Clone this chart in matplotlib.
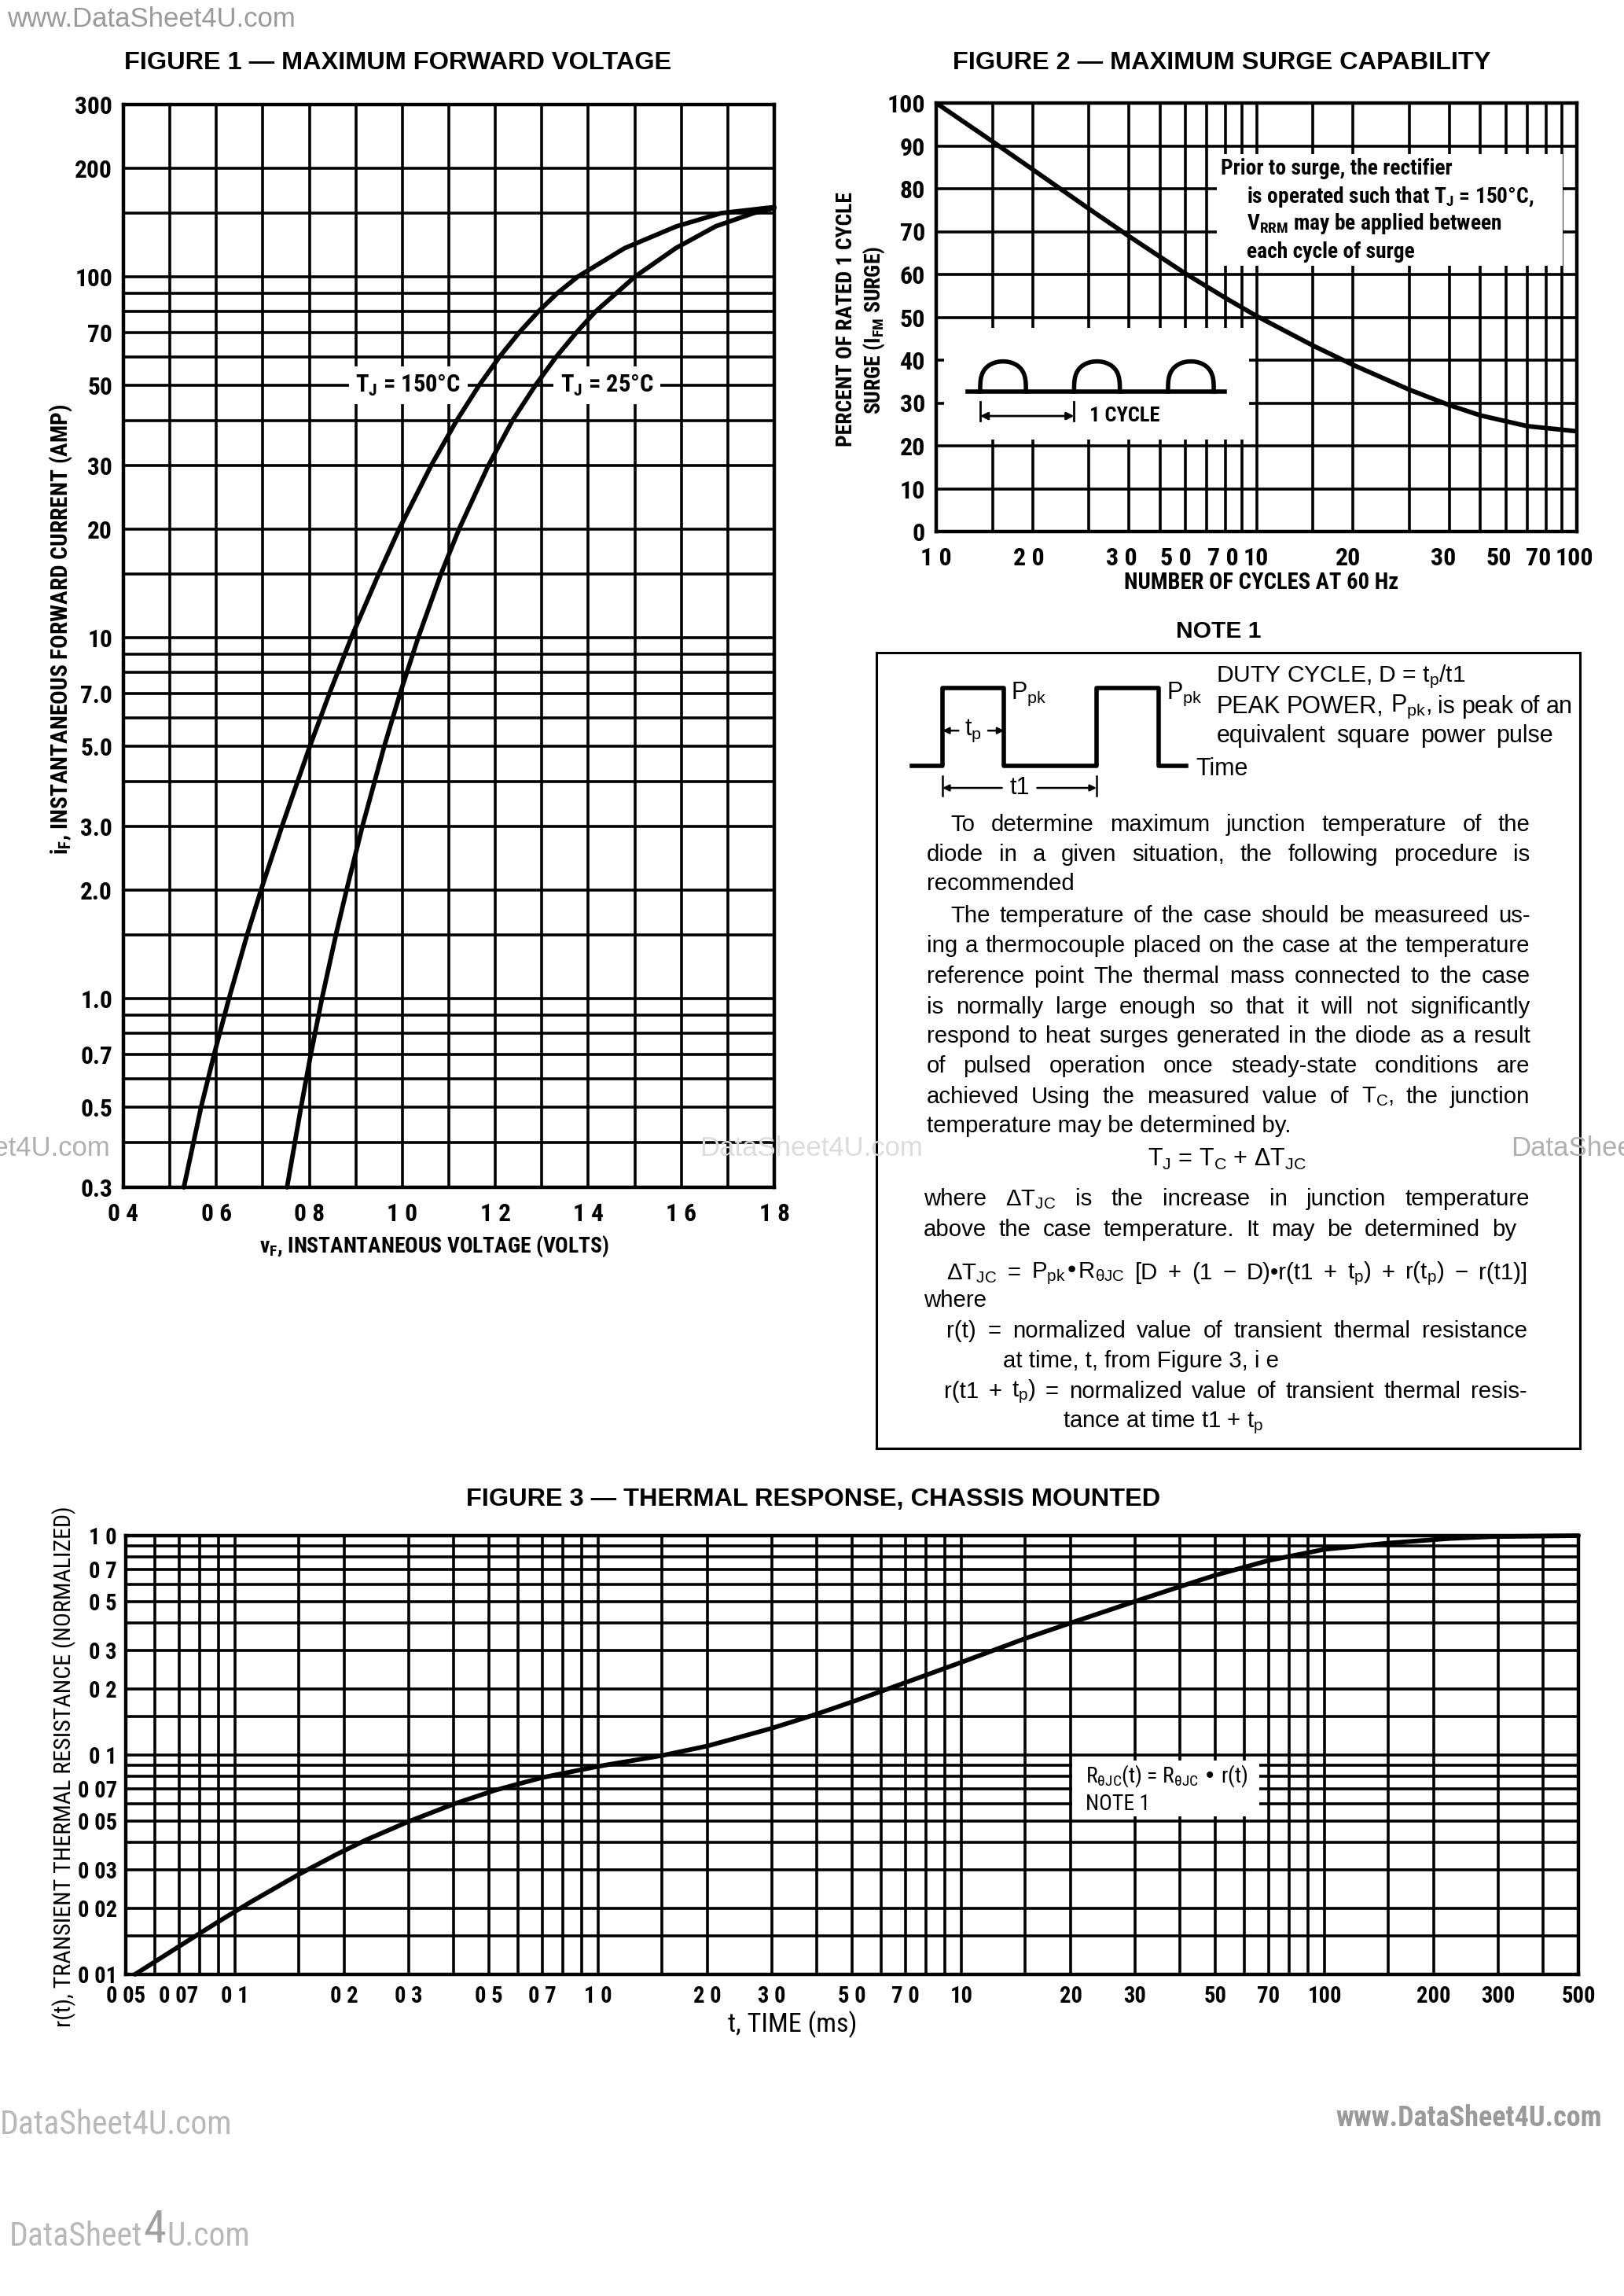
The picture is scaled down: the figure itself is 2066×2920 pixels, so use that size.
import os
import numpy as np
import matplotlib.pyplot as plt
import matplotlib.font_manager as fm
from matplotlib.patches import Rectangle
from matplotlib.ticker import NullFormatter

# page size in pixels (the reference is a scanned datasheet page)
W, H = 2066, 2920
DPI = 200

SANS = ['Liberation Sans', 'DejaVu Sans']
plt.rcParams['font.family'] = SANS
plt.rcParams['mathtext.default'] = 'regular'

# ---------------- Figure 1 : maximum forward voltage ----------------
vf_150 = [0.530, 0.567, 0.595, 0.627, 0.666, 0.696, 0.741, 0.801, 0.843, 0.890,
          0.949, 0.993, 1.062, 1.117, 1.165, 1.209, 1.251, 1.292, 1.333, 1.377,
          1.478, 1.590, 1.685, 1.800]
if_150 = [0.3, 0.5, 0.7, 1.0, 1.5, 2.0, 3.0, 5.0, 7.0, 10,
          15, 20, 30, 40, 50, 60, 70, 80, 90, 100,
          120, 138, 150, 156]
vf_25 = [0.752, 0.782, 0.803, 0.827, 0.857, 0.880, 0.914, 0.961, 0.995, 1.034,
         1.083, 1.122, 1.185, 1.237, 1.286, 1.331, 1.374, 1.415, 1.500, 1.588,
         1.674, 1.755, 1.800]
if_25 = [0.3, 0.5, 0.7, 1.0, 1.5, 2.0, 3.0, 5.0, 7.0, 10,
         15, 20, 30, 40, 50, 60, 70, 80, 100, 120,
         138, 150, 155]
f1_yticks = [0.3, 0.5, 0.7, 1.0, 2.0, 3.0, 5.0, 7.0, 10, 20, 30, 50, 70, 100, 200, 300]
f1_ylabels = ['0.3', '0.5', '0.7', '1.0', '2.0', '3.0', '5.0', '7.0',
              '10', '20', '30', '50', '70', '100', '200', '300']
f1_xticks = [0.4, 0.6, 0.8, 1.0, 1.2, 1.4, 1.6, 1.8]
f1_xlabels = ['0 4', '0 6', '0 8', '1 0', '1 2', '1 4', '1 6', '1 8']
f1_xgrid = [0.4, 0.5, 0.6, 0.7, 0.8, 0.9, 1.0, 1.1, 1.2, 1.3, 1.4, 1.5, 1.6, 1.7, 1.8]
f1_ygrid = [0.3, 0.4, 0.5, 0.6, 0.7, 0.8, 0.9, 1, 1.5, 2, 3, 4, 5, 6, 7, 8, 9,
            10, 15, 20, 30, 40, 50, 60, 70, 80, 90, 100, 150, 200, 300]

# ---------------- Figure 2 : maximum surge capability ----------------
surge_cycles = [1, 1.5, 2, 3, 4, 5, 6, 8, 10, 15, 20, 30, 40, 50, 70, 100]
surge_pct = [100, 91.0, 84.5, 75.3, 68.9, 64.1, 60.2, 54.5, 50.3, 43.4, 38.9,
             33.1, 29.5, 27.1, 24.6, 23.4]
# the printed labels sit a little off their grid lines
f2_xtick_pos = [1, 1.95, 3.8, 5.6, 7.85, 9.96, 19.3, 38.2, 57, 76, 98]
f2_xlabels = ['1 0', '2 0', '3 0', '5 0', '7 0', '10', '20', '30', '50', '70', '100']
f2_yticks = [0, 10, 20, 30, 40, 50, 60, 70, 80, 90, 100]
f2_xgrid = [1, 1.5, 2, 3, 4, 5, 6, 7, 8, 9, 10, 15, 20, 30, 40, 50, 60, 70, 80, 90, 100]

# ---------------- Figure 3 : thermal response ----------------
t_ms = [0.053, 0.07, 0.09, 0.11, 0.15, 0.19, 0.23, 0.3, 0.4, 0.52, 0.7, 1.0, 1.5,
        2.0, 3.0, 4.0, 5.0, 6.0, 7.0, 10, 15, 20, 30, 40, 50, 70, 100, 150,
        220, 290, 500]
r_t = [0.0100, 0.0134, 0.0174, 0.0213, 0.0286, 0.0352, 0.0411, 0.0497, 0.0598,
       0.0691, 0.0789, 0.0888, 0.0995, 0.110, 0.1323, 0.1538, 0.1747, 0.1949,
       0.2137, 0.2647, 0.340, 0.400, 0.501, 0.586, 0.660, 0.770, 0.866, 0.925,
       0.970, 0.990, 1.0]
f3_xticks = [0.05, 0.07, 0.1, 0.2, 0.3, 0.5, 0.7, 1.0, 2.0, 3.0, 5.0, 7.0,
             10, 20, 30, 50, 70, 100, 200, 300, 500]
f3_xlabels = ['0 05', '0 07', '0 1', '0 2', '0 3', '0 5', '0 7', '1 0', '2 0',
              '3 0', '5 0', '7 0', '10', '20', '30', '50', '70', '100', '200',
              '300', '500']
f3_yticks = [0.01, 0.02, 0.03, 0.05, 0.07, 0.1, 0.2, 0.3, 0.5, 0.7, 1.0]
f3_ylabels = ['0 01', '0 02', '0 03', '0 05', '0 07', '0 1', '0 2', '0 3',
              '0 5', '0 7', '1 0']
mantissas = [1, 1.5, 2, 3, 4, 5, 6, 7, 8, 9]

GRID_LW = 1.3


# ---------- a condensed face for the narrow datasheet lettering ----------
def pick_condensed(want_weight):
    prefs = ['liberation sans narrow', 'arial narrow', 'nimbus sans narrow',
             'roboto condensed', 'dejavu sans condensed', 'noto sans condensed',
             'open sans condensed']
    best = None
    for f in fm.fontManager.ttflist:
        base = os.path.basename(f.fname).lower()
        key = (f.name + ' ' + base).lower().replace('-', ' ').replace('_', ' ')
        key2 = key.replace(' ', '')
        if f.style != 'normal':
            continue
        if 'narrow' not in key and 'condensed' not in key:
            continue
        if any(w in key2 for w in ('extra', 'ultra', 'semicond')):
            continue
        w = f.weight if isinstance(f.weight, int) else fm.weight_dict.get(f.weight, 400)
        rank = len(prefs)
        for i, p in enumerate(prefs):
            if all(part in key2 for part in p.split()):
                rank = i
                break
        score = (rank, abs(w - want_weight))
        if best is None or score < best[0]:
            best = (score, f.fname)
    if best is None or best[0][1] > 150:
        return None
    return best[1]


COND_B = pick_condensed(700)
COND_R = pick_condensed(400)


def nprop(size, bold=True):
    path = COND_B if bold else COND_R
    if path:
        return fm.FontProperties(fname=path, size=size)
    return fm.FontProperties(family=SANS, weight='bold' if bold else 'normal',
                             size=size * 0.82)


def add_ax(l, t, r, b):
    return fig.add_axes([l / W, 1 - b / H, (r - l) / W, (b - t) / H])


def ftext(x, y, s, **kw):
    return fig.text(x / W, 1 - y / H, s, **kw)


def graph_paper(ax, xgrid, ygrid):
    ax.xaxis.remove_overlapping_locs = False
    ax.yaxis.remove_overlapping_locs = False
    ax.set_xticks(xgrid, minor=True)
    ax.set_yticks(ygrid, minor=True)
    ax.xaxis.set_minor_formatter(NullFormatter())
    ax.yaxis.set_minor_formatter(NullFormatter())
    ax.grid(which='minor', color='black', lw=GRID_LW)
    ax.tick_params(which='both', length=0)
    for s in ax.spines.values():
        s.set_linewidth(GRID_LW + 0.3)


def tick_font(ax, size):
    for lab in ax.get_xticklabels() + ax.get_yticklabels():
        lab.set_fontproperties(nprop(size))


fig = plt.figure(figsize=(W / DPI, H / DPI), dpi=DPI)
renderer = fig.canvas.get_renderer()

CURVE = dict(color='black', lw=2.1, solid_joinstyle='round', solid_capstyle='round')

# ===================== FIGURE 1 =====================
ax1 = add_ax(157, 133, 985, 1510)
ax1.set_yscale('log')
ax1.set_xlim(0.4, 1.8)
ax1.set_ylim(0.3, 300)
graph_paper(ax1, f1_xgrid, f1_ygrid)
ax1.set_xticks(f1_xticks, f1_xlabels)
ax1.set_yticks(f1_yticks, f1_ylabels)
ax1.tick_params(axis='x', pad=7)
ax1.tick_params(axis='y', pad=5)
tick_font(ax1, 11.3)
ax1.plot(vf_150, if_150, zorder=4, clip_on=False, **CURVE)
ax1.plot(vf_25, if_25, zorder=4, clip_on=False, **CURVE)
lab_kw = dict(ha='center', va='center', fontproperties=nprop(11), zorder=3,
              bbox=dict(fc='white', ec='none', pad=3))
ax1.text(1.013, 50, r'T$_J$ = 150°C', **lab_kw)
ax1.text(1.44, 50, r'T$_J$ = 25°C', **lab_kw)

ftext(506, 80, 'FIGURE 1 — MAXIMUM FORWARD VOLTAGE', ha='center', va='center',
      fontweight='bold', fontsize=11.7)
ftext(552, 1585, r'v$_F$, INSTANTANEOUS VOLTAGE (VOLTS)', ha='center', va='center',
      fontproperties=nprop(9.9))
ftext(78, 800, r'i$_F$, INSTANTANEOUS FORWARD CURRENT (AMP)', ha='center', va='center',
      rotation=90, fontproperties=nprop(10.6))

# ===================== FIGURE 2 =====================
ax2 = add_ax(1191, 131, 2006, 676)
ax2.set_xscale('log')
ax2.set_xlim(1, 100)
ax2.set_ylim(0, 100)
graph_paper(ax2, f2_xgrid, f2_yticks)
ax2.set_xticks(f2_xtick_pos, f2_xlabels)
ax2.set_yticks(f2_yticks, [str(v) for v in f2_yticks])
ax2.tick_params(axis='x', pad=7)
ax2.tick_params(axis='y', pad=5)
tick_font(ax2, 11.5)
ax2.plot(surge_cycles, surge_pct, zorder=4, **CURVE)

# white area holding the note in the upper right
ax2.add_patch(Rectangle((0.4375, 0.62), 0.54, 0.26, transform=ax2.transAxes,
                        fc='white', ec='none', zorder=2))
note_kw = dict(transform=ax2.transAxes, ha='left', va='center',
               fontproperties=nprop(9.9), zorder=3)
ax2.text(0.444, 0.847, 'Prior to surge, the rectifier', **note_kw)
ax2.text(0.485, 0.781, r'is operated such that T$_J$ = 150°C,', **note_kw)
ax2.text(0.485, 0.718, r'V$_{RRM}$ may be applied between', **note_kw)
ax2.text(0.485, 0.653, 'each cycle of surge', **note_kw)

# inset: half-wave sketch
ins = ax2.inset_axes([0.012, 0.215, 0.476, 0.26])
ins.set_facecolor('white')
ins.set_xlim(0, 1)
ins.set_ylim(0, 1)
ins.set_xticks([])
ins.set_yticks([])
for s in ins.spines.values():
    s.set_visible(False)
hump_centers = [0.194, 0.502, 0.81]
hump_half = 0.075
base_y, hump_h = 0.43, 0.27
ins.plot([0.078, 0.922], [base_y, base_y], color='black', lw=2.0)
for c in hump_centers:
    th = np.linspace(0, np.pi, 60)
    ins.plot(c - hump_half * np.cos(th), base_y + hump_h * np.sin(th) ** 0.6,
             color='black', lw=2.0)
x_a, x_b = hump_centers[0] - hump_half, hump_centers[1] - hump_half
ins.plot([x_a, x_a], [0.17, 0.34], color='black', lw=1.0)
ins.plot([x_b, x_b], [0.17, 0.34], color='black', lw=1.0)
ins.annotate('', xy=(x_a, 0.21), xytext=(x_b, 0.21),
             arrowprops=dict(arrowstyle='<|-|>', color='black', lw=1.0,
                             mutation_scale=7, shrinkA=0, shrinkB=0))
ins.text(x_b + 0.05, 0.21, '1 CYCLE', ha='left', va='center', fontproperties=nprop(9.5))

ftext(1554, 80, 'FIGURE 2 — MAXIMUM SURGE CAPABILITY', ha='center', va='center',
      fontweight='bold', fontsize=11.7)
ftext(1605, 741, 'NUMBER OF CYCLES AT 60 Hz', ha='center', va='center',
      fontproperties=nprop(10.3))
ftext(1076, 406, 'PERCENT OF RATED 1 CYCLE', ha='center', va='center', rotation=90,
      fontproperties=nprop(9.9))
ftext(1112, 420, r'SURGE (I$_{FM}$ SURGE)', ha='center', va='center', rotation=90,
      fontproperties=nprop(9.9))

# ===================== NOTE 1 =====================
ftext(1550, 803, 'NOTE 1', ha='center', va='center', fontweight='bold', fontsize=10.8)
nax = add_ax(1115, 830, 2010, 1842)
nax.set_xlim(0, 1)
nax.set_ylim(1, 0)
nax.set_xticks([])
nax.set_yticks([])
for s in nax.spines.values():
    s.set_linewidth(1.1)
NAX_W = nax.get_window_extent(renderer).width
BODY = 10.6


def put_line(x0, y, s, size=BODY, x1=None):
    # left aligned line; if x1 is given the words are spread to end at x1
    if x1 is None:
        nax.text(x0, y, s, ha='left', va='center', fontsize=size)
        return
    words = s.split()
    texts = [nax.text(0, y, w, ha='left', va='center', fontsize=size) for w in words]
    widths = [t.get_window_extent(renderer).width / NAX_W for t in texts]
    gap = (x1 - x0 - sum(widths)) / max(len(words) - 1, 1)
    x = x0
    for t, w in zip(texts, widths):
        t.set_x(x)
        x += w + gap


# pulse train sketch, in units of tp/2
pulse_t = [0, 1, 1, 3, 3, 6, 6, 8, 8, 8.9]
pulse_p = [0, 0, 1, 1, 0, 0, 1, 1, 0, 0]
px0, pscale = 0.05, 0.39 / 8.9
py0, pheight = 0.142, 0.098
pxs = [px0 + v * pscale for v in pulse_t]
pys = [py0 - v * pheight for v in pulse_p]
nax.plot(pxs, pys, color='black', lw=2.0)
rise1, fall1, rise2 = pxs[2], pxs[4], pxs[6]
nax.text(fall1 + 0.01, 0.052, r'P$_{pk}$', ha='left', va='center', fontsize=11)
nax.text(pxs[8] + 0.012, 0.052, r'P$_{pk}$', ha='left', va='center', fontsize=11)
nax.text(pxs[-1] + 0.014, 0.146, 'Time', ha='left', va='center', fontsize=11)
mid_tp = (rise1 + fall1) / 2
nax.text(mid_tp, 0.098, r't$_p$', ha='center', va='center', fontsize=11)
for a, b in [(mid_tp - 0.021, rise1), (mid_tp + 0.021, fall1)]:
    nax.annotate('', xy=(b, 0.098), xytext=(a, 0.098),
                 arrowprops=dict(arrowstyle='-|>', color='black', lw=0.9,
                                 mutation_scale=6, shrinkA=0, shrinkB=0))
nax.plot([rise1, rise1], [0.155, 0.18], color='black', lw=0.9)
nax.plot([rise2, rise2], [0.155, 0.18], color='black', lw=0.9)
mid_t1 = (rise1 + rise2) / 2
for a, b in [(mid_t1 - 0.025, rise1), (mid_t1 + 0.025, rise2)]:
    nax.annotate('', xy=(b, 0.170), xytext=(a, 0.170),
                 arrowprops=dict(arrowstyle='-|>', color='black', lw=0.9,
                                 mutation_scale=6, shrinkA=0, shrinkB=0))
nax.text(mid_t1, 0.170, 't1', ha='center', va='center', fontsize=11)

put_line(0.483, 0.030, r'DUTY CYCLE, D = t$_p$/t1', 10.8)
put_line(0.483, 0.068, r'PEAK POWER, P$_{pk}$, is peak of an', 11, 0.99)
put_line(0.483, 0.105, 'equivalent square power pulse', 11, 0.962)

RM = 0.929
body_lines = [
    (0.105, 0.216, 'To determine maximum junction temperature of the', RM),
    (0.071, 0.254, 'diode in a given situation, the following procedure is', RM),
    (0.071, 0.291, 'recommended', None),
    (0.105, 0.331, 'The temperature of the case should be measureed us-', RM),
    (0.071, 0.369, 'ing a thermocouple placed on the case at the temperature', RM),
    (0.071, 0.407, 'reference point  The thermal mass connected to the case', RM),
    (0.071, 0.446, 'is normally large enough so that it will not significantly', RM),
    (0.071, 0.482, 'respond to heat surges generated in the diode as a result', RM),
    (0.071, 0.520, 'of pulsed operation once steady-state conditions are', RM),
    (0.071, 0.558, r'achieved  Using the measured value of T$_C$, the junction', RM),
    (0.071, 0.595, 'temperature may be determined by.', None),
    (0.067, 0.687, r'where ΔT$_{JC}$ is the increase in junction temperature', RM),
    (0.067, 0.725, 'above the case temperature. It may be determined by', 0.91),
    (0.100, 0.780, r'ΔT$_{JC}$ = P$_{pk}$•R$_{θJC}$ [D + (1 − D)•r(t1 + t$_p$) + r(t$_p$) − r(t1)]', 0.925),
    (0.067, 0.814, 'where', None),
    (0.100, 0.853, 'r(t) =  normalized value of transient thermal resistance', 0.925),
    (0.180, 0.890, 'at time, t, from Figure 3, i e', None),
    (0.096, 0.929, r'r(t1 + t$_p$) =  normalized value of transient thermal resis-', 0.925),
    (0.265, 0.967, r'tance at time t1 + t$_p$', None),
]
for x0, y, s, x1 in body_lines:
    put_line(x0, y, s, BODY, x1)
nax.text(0.498, 0.637, r'T$_J$ = T$_C$ + ΔT$_{JC}$', ha='center', va='center',
         fontsize=BODY + 0.4)

# ===================== FIGURE 3 =====================
ax3 = add_ax(160, 1953, 2008, 2511)
ax3.set_xscale('log')
ax3.set_yscale('log')
ax3.set_xlim(0.05, 500)
ax3.set_ylim(0.01, 1.0)
xg = [m * d for d in [0.01, 0.1, 1, 10, 100] for m in mantissas]
xg = [v for v in xg if 0.0499 <= v <= 500.1]
yg = [m * d for d in [0.01, 0.1] for m in mantissas] + [1.0]
graph_paper(ax3, xg, yg)
ax3.set_xticks(f3_xticks, f3_xlabels)
ax3.set_yticks(f3_yticks, f3_ylabels)
ax3.tick_params(axis='x', pad=5)
ax3.tick_params(axis='y', pad=4)
tick_font(ax3, 10.3)
ax3.plot(t_ms, r_t, zorder=4, clip_on=False, **CURVE)
ax3.add_patch(Rectangle((20.2, 0.0525), 66 - 20.2, 0.094 - 0.0525, fc='white',
                        ec='none', zorder=2))
ax3.text(22, 0.0803, r'R$_{θJC}$(t) = R$_{θJC}$ • r(t)', ha='left', va='center',
         fontproperties=nprop(10, bold=False), zorder=3)
ax3.text(22, 0.0596, 'NOTE 1', ha='left', va='center',
         fontproperties=nprop(10, bold=False), zorder=3)

ftext(1035, 1907, 'FIGURE 3 — THERMAL RESPONSE, CHASSIS MOUNTED', ha='center',
      va='center', fontweight='bold', fontsize=11.7)
ftext(1008, 2575, 't, TIME (ms)', ha='center', va='center',
      fontproperties=nprop(12.3, bold=False))
ftext(82, 2247, 'r(t), TRANSIENT THERMAL RESISTANCE (NORMALIZED)', ha='center',
      va='center', rotation=90, fontproperties=nprop(10.8, bold=False))

# ===================== watermarks =====================
ftext(9, 24, 'www.DataSheet4U.com', ha='left', va='center', color='#9a9a9a', fontsize=12.5)
ftext(140, 1460, 'DataSheet4U.com', ha='right', va='center', color='#b0b0b0', fontsize=12.5)
ftext(890, 1460, 'DataSheet4U.com', ha='left', va='center', color='#dcdcdc', fontsize=12.5)
ftext(1922, 1460, 'DataSheet4U.com', ha='left', va='center', color='#b0b0b0', fontsize=12.5)
ftext(0, 2703, 'DataSheet4U.com', ha='left', va='center', color='#b8b8b8',
      fontproperties=nprop(15, bold=False))
ftext(2038, 2694, 'www.DataSheet4U.com', ha='right', va='center', color='#9a9a9a',
      fontproperties=nprop(13))
# bottom mark with its oversized "4"
xpos = 12
for piece, size, col, dy in [('DataSheet', 15, '#b8b8b8', 0), ('4', 21, '#a0a0a0', -8),
                             ('U.com', 15, '#b8b8b8', 0)]:
    t = ftext(xpos, 2845 + dy, piece, ha='left', va='center', color=col,
              fontproperties=nprop(size, bold=False))
    xpos += t.get_window_extent(renderer).width + 1

fig.savefig('out.png', dpi=DPI, facecolor='white')
